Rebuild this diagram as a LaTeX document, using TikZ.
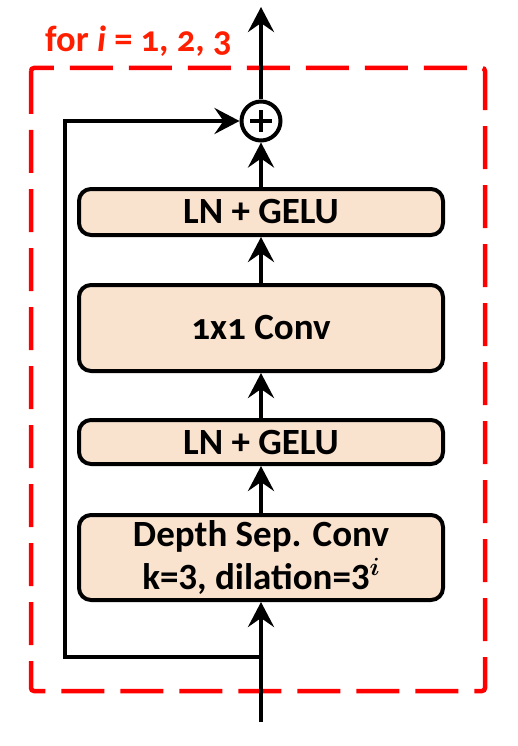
\documentclass[tikz,border=0pt]{standalone}
\usepackage{fontspec}
\setmainfont{Carlito}
\newfontfamily\osf{Carlito}[Numbers=OldStyle]
\usetikzlibrary{arrows.meta}
\definecolor{boxfill}{RGB}{250,227,206}
\definecolor{lblred}{RGB}{255,30,0}
\definecolor{dashred}{RGB}{255,0,0}
\begin{document}
\begin{tikzpicture}[x=1pt,y=-1pt,
  blk/.style={draw=black, line width=4pt, fill=boxfill, rounded corners=12pt,
    minimum width=364pt, inner sep=0pt, align=center,
    font=\fontsize{37}{43}\selectfont\bfseries},
  arr/.style={line width=4pt, -{Stealth[length=25pt,width=26pt,inset=9pt]}},
  ln/.style={line width=4pt}
]
\useasboundingbox (0,0) rectangle (518,746);
% dashed frame
\draw[dashred, line width=4.5pt, dash pattern=on 43pt off 16pt, rounded corners=3pt]
  (31,68) rectangle (485,691);
\node[anchor=base west, text=lblred, inner sep=0pt,
  font=\fontsize{36.5}{40}\selectfont\bfseries\osf] (lbl) at (45,52) {for \textit{i} = 1, 2, 3};
% blocks
\node[blk, minimum height=46pt] (ln2) at (261,212) {LN + GELU};
\node[blk, minimum height=86pt] (conv) at (261,328) {\osf 1x1 Conv};
\node[blk, minimum height=44pt] (ln1) at (261,442) {LN + GELU};
\node[blk, minimum height=85pt] (dsc) at (261,557.5) {Depth Sep. Conv\\k=3, dilation=3\raisebox{14pt}{\fontsize{29}{29}\selectfont\boldmath$i$}};
% add
\node[circle, draw, line width=4pt, minimum size=39pt, inner sep=0pt] (add) at (261,121) {};
\draw[ln] ([xshift=-11pt]add.center) -- ([xshift=11pt]add.center);
\draw[ln] ([yshift=-11pt]add.center) -- ([yshift=11pt]add.center);
% connectors
\coordinate (in) at (261,722);
\coordinate (sp) at (261,657);
\coordinate (out) at (261,7);
\coordinate (bl) at (65,657);
\coordinate (tl) at (65,121);
\draw[arr] (in) -- (dsc.south);
\draw[arr] (dsc.north) -- (ln1.south);
\draw[arr] (ln1.north) -- (conv.south);
\draw[arr] (conv.north) -- (ln2.south);
\draw[arr] (ln2.north) -- (add.south);
\draw[arr] (add.north) -- (out);
\draw[arr] (sp) -- (bl) -- (tl) -- (add.west);
\end{tikzpicture}
\end{document}
